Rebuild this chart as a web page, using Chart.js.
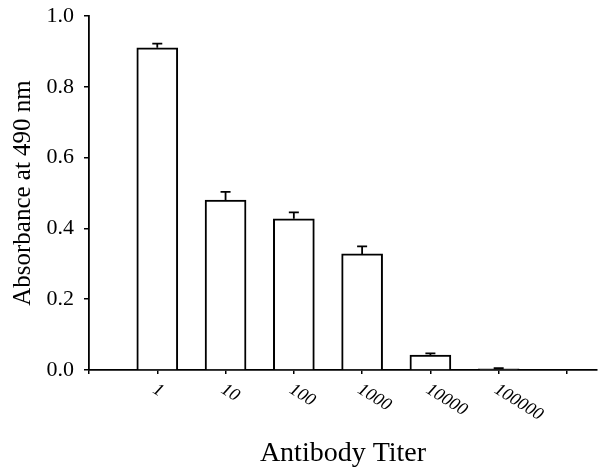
<!DOCTYPE html>
<html>
<head>
<meta charset="utf-8">
<script src="https://cdn.jsdelivr.net/npm/chart.js@4.4.1/dist/chart.umd.min.js"></script>
<style>
  body { margin: 0; background: #fff; }
  #wrap { width: 599px; height: 470px; }
</style>
</head>
<body>
<div id="wrap"><canvas id="myChart"></canvas></div>
<script>
// values
const titers = ['1', '10', '100', '1000', '10000', '100000'];
const absorbance = [0.91, 0.48, 0.427, 0.328, 0.042, 0.003];
const errors = [0.012, 0.023, 0.018, 0.021, 0.005, 0.002];
const yTicks = [0.0, 0.2, 0.4, 0.6, 0.8, 1.0];

const serif = '"Liberation Serif", "Times New Roman", serif';

// upper error caps
const errorBars = {
    id: 'errorBars',
    afterDatasetsDraw(chart) {
        const ctx = chart.ctx;
        const meta = chart.getDatasetMeta(0);
        const y = chart.scales.y;
        ctx.save();
        ctx.strokeStyle = '#000';
        ctx.lineWidth = 1.8;
        meta.data.forEach((bar, i) => {
            const top = y.getPixelForValue(absorbance[i] + errors[i]);
            const base = y.getPixelForValue(absorbance[i]);
            ctx.beginPath();
            ctx.moveTo(bar.x, base);
            ctx.lineTo(bar.x, top);
            ctx.moveTo(bar.x - 5, top);
            ctx.lineTo(bar.x + 5, top);
            ctx.stroke();
        });
        ctx.restore();
    }
};

// slanted titer labels
const slantLabels = {
    id: 'slantLabels',
    afterDraw(chart) {
        const ctx = chart.ctx;
        const x = chart.scales.x;
        const bottom = chart.chartArea.bottom;
        ctx.save();
        ctx.fillStyle = '#000';
        ctx.font = 'italic 18px ' + serif;
        ctx.textAlign = 'left';
        ctx.textBaseline = 'middle';
        titers.forEach((t, i) => {
            ctx.save();
            ctx.translate(x.getPixelForValue(i + 1) - 3, bottom + 18);
            ctx.rotate(32 * Math.PI / 180);
            ctx.fillText(t, 0, 0);
            ctx.restore();
        });
        ctx.restore();
    }
};

new Chart(document.getElementById('myChart'), {
    type: 'bar',
    data: {
        datasets: [{
            data: absorbance.map((v, i) => ({ x: i + 1, y: v })),
            backgroundColor: '#fff',
            borderColor: '#000',
            borderWidth: 2,
            barThickness: 41
        }]
    },
    options: {
        responsive: true,
        maintainAspectRatio: false,
        animation: false,
        layout: { padding: { top: 16, right: 2, left: 0, bottom: 0 } },
        plugins: { legend: { display: false }, tooltip: { enabled: false } },
        scales: {
            x: {
                type: 'linear',
                offset: false,
                min: 0,
                max: 7.44,
                afterBuildTicks: (s) => { s.ticks = [0, 1, 2, 3, 4, 5, 6, 7].map(v => ({ value: v })); },
                afterFit: (s) => { s.height = 100; },
                ticks: { callback: () => '', color: '#000' },
                grid: { offset: false, drawOnChartArea: false, tickLength: 4, color: '#000', lineWidth: 1.5 },
                border: { color: '#000', width: 1.8 },
                title: {
                    display: true,
                    text: 'Antibody Titer',
                    color: '#000',
                    font: { family: serif, size: 28 },
                    padding: { top: 0, bottom: 0 }
                }
            },
            y: {
                min: 0,
                max: 1,
                afterBuildTicks: (s) => { s.ticks = yTicks.map(v => ({ value: v })); },
                afterFit: (s) => { s.width = 89; s.paddingTop = 0; s.paddingBottom = 0; },
                ticks: {
                    color: '#000',
                    padding: 10,
                    font: { family: serif, size: 22 },
                    callback: (v) => v.toFixed(1)
                },
                grid: { drawOnChartArea: false, tickLength: 5, color: '#000', lineWidth: 1.5 },
                border: { color: '#000', width: 1.8 },
                title: {
                    display: true,
                    text: 'Absorbance at 490 nm',
                    color: '#000',
                    font: { family: serif, size: 25 },
                    padding: { top: 8, bottom: 0 }
                }
            }
        }
    },
    plugins: [errorBars, slantLabels]
});
</script>
</body>
</html>
